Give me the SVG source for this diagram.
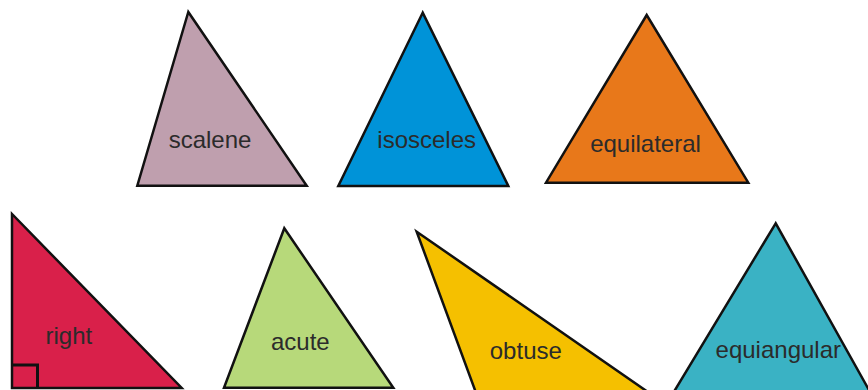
<svg xmlns="http://www.w3.org/2000/svg" width="868" height="390" viewBox="0 0 868 390">
<style>
.tri{stroke:#111;stroke-width:2.5;stroke-linejoin:miter}
.lbl{font-family:"Liberation Sans",Arial,sans-serif;font-size:24px;fill:#2b2b2b;text-anchor:middle}
</style>
<rect width="868" height="390" fill="#fff"/>
<g id="scalene">
<polygon class="tri" fill="#bf9fae" points="188.3,12 137.3,185.7 306.7,185.7"/>
<text class="lbl" x="210" y="148">scalene</text>
</g>
<g id="isosceles">
<polygon class="tri" fill="#0093d8" points="422.7,12.7 338.3,186 508.3,186"/>
<text class="lbl" x="426.7" y="148">isosceles</text>
</g>
<g id="equilateral">
<polygon class="tri" fill="#e8781a" points="646.7,15 546,182.7 748.3,182.7"/>
<text class="lbl" x="645.5" y="152">equilateral</text>
</g>
<g id="right">
<polygon class="tri" fill="#d9204a" points="12,214 12,388 181.7,388"/>
<polyline fill="none" stroke="#111" stroke-width="3" points="12,365 37.5,365 37.5,388"/>
<text class="lbl" x="68.8" y="343.5">right</text>
</g>
<g id="acute">
<polygon class="tri" fill="#b7d97a" points="284.3,228.3 224,387.7 393.3,387.7"/>
<text class="lbl" x="300.3" y="350">acute</text>
</g>
<g id="obtuse">
<polygon class="tri" fill="#f5c000" points="416.7,231.7 489.7,430 702.7,430"/>
<text class="lbl" x="525.8" y="359.3">obtuse</text>
</g>
<g id="equiangular">
<polygon class="tri" fill="#3ab2c4" points="775.7,223.3 644.8,440 897,440"/>
<text class="lbl" x="778.3" y="358.3">equiangular</text>
</g>
<g id="connectors"></g>
</svg>
